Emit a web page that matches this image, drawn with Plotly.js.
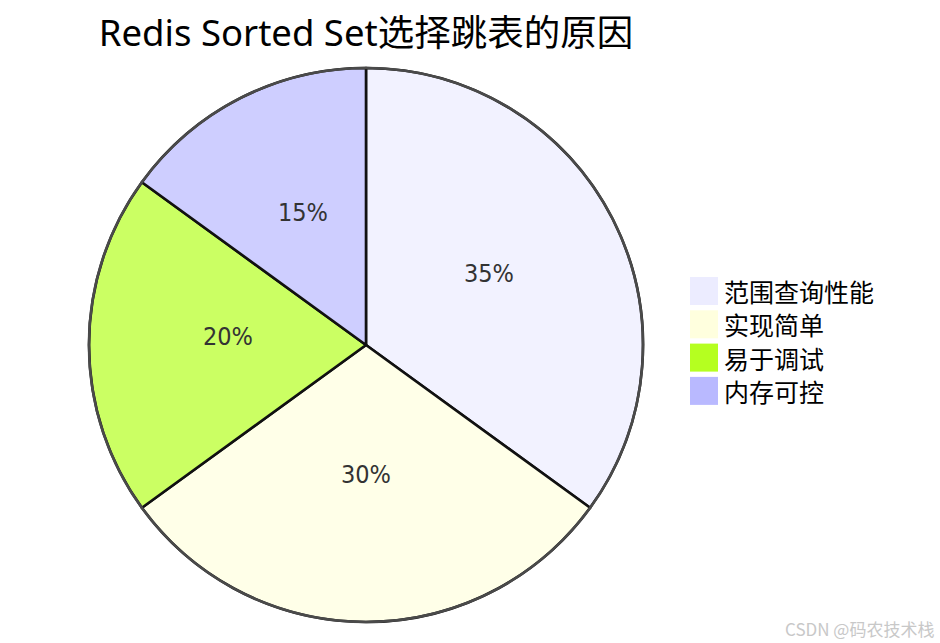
<!DOCTYPE html>
<html>
<head>
<meta charset="utf-8">
<script src="https://cdn.plot.ly/plotly-3.0.1.min.js"></script>
<style>
  html, body { margin: 0; padding: 0; background: #fff; }
  #chart { width: 940px; height: 643px; }
</style>
</head>
<body>
<div id="chart"></div>
<script>
// data
const labels = ['范围查询性能', '实现简单', '易于调试', '内存可控'];
const values = [35, 30, 20, 15];
const baseColors = ['#ECECFF', '#FFFFDE', '#B5FF20', '#B9B9FF'];

const W = 940, H = 643;
const cx = 366, cy = 345, r = 277;

// slices are drawn at 0.7 opacity over white
function fade(hex, a) {
  const n = parseInt(hex.slice(1), 16);
  const ch = [(n >> 16) & 255, (n >> 8) & 255, n & 255];
  return 'rgb(' + ch.map(c => Math.round(c * a + 255 * (1 - a))).join(',') + ')';
}

const trace = {
  type: 'pie',
  labels: labels,
  values: values,
  sort: false,
  direction: 'clockwise',
  rotation: 0,
  marker: {
    colors: baseColors.map(c => fade(c, 0.7)),
    line: { color: '#111', width: 2.6 }
  },
  textinfo: 'none',
  hoverinfo: 'none',
  showlegend: false,
  domain: {
    x: [(cx - r) / W, (cx + r) / W],
    y: [(H - cy - r) / H, (H - cy + r) / H]
  }
};

// grey outer rim over the slice edges
const shapes = [{
  type: 'circle', xref: 'paper', yref: 'paper',
  x0: (cx - r) / W, x1: (cx + r) / W,
  y0: (H - cy - r) / H, y1: (H - cy + r) / H,
  line: { color: '#4a4a4a', width: 2.6 }, fillcolor: 'rgba(0,0,0,0)'
}];

// percentage labels at half radius, mid-angle of each slice
const total = values.reduce((a, b) => a + b, 0);
let cum = 0;
const annotations = values.map(v => {
  const mid = (cum + v / 2) / total * 2 * Math.PI;
  cum += v;
  const px = cx + 0.5 * r * Math.sin(mid);
  const py = cy - 0.5 * r * Math.cos(mid) - 9;
  return {
    text: Math.round(v / total * 100) + '%',
    xref: 'paper', yref: 'paper',
    x: px / W, y: 1 - py / H, xanchor: 'center', yanchor: 'middle',
    showarrow: false,
    font: { family: 'DejaVu Sans Condensed, Liberation Sans Narrow, Noto Sans', size: 25, color: '#333' }
  };
});

// hand-made legend to the right of the pie
const legTop = 277, legStep = 33.3, box = 28, legX = 690;
labels.forEach((l, i) => {
  shapes.push({
    type: 'rect', xref: 'paper', yref: 'paper',
    x0: legX / W, x1: (legX + box) / W,
    y0: 1 - (legTop + i * legStep + box) / H,
    y1: 1 - (legTop + i * legStep) / H,
    fillcolor: baseColors[i], line: { width: 0 }
  });
  annotations.push({
    text: l, xref: 'paper', yref: 'paper',
    x: (legX + box + 4) / W, y: 1 - (legTop + i * legStep + box / 2) / H,
    xanchor: 'left', yanchor: 'middle', showarrow: false,
    font: { family: 'Noto Sans CJK SC', size: 25, color: '#000' }
  });
});

annotations.push({
  text: 'CSDN @码农技术栈', xref: 'paper', yref: 'paper',
  x: 936 / W, y: 1 - 628 / H, xanchor: 'right', yanchor: 'middle',
  showarrow: false,
  font: { family: 'Noto Sans CJK SC', size: 17, color: '#c8c8c8' }
});

const layout = {
  width: W,
  height: H,
  margin: { l: 0, r: 0, t: 0, b: 0 },
  paper_bgcolor: '#fff',
  title: {
    text: 'Redis Sorted Set选择跳表的原因',
    x: cx / W, xanchor: 'center',
    y: 1 - 33 / H, yanchor: 'middle',
    font: { family: 'Noto Sans, Noto Sans CJK SC', size: 36.5, color: '#000' }
  },
  shapes: shapes,
  annotations: annotations
};

Plotly.newPlot('chart', [trace], layout, { displayModeBar: false, staticPlot: true });
</script>
</body>
</html>
